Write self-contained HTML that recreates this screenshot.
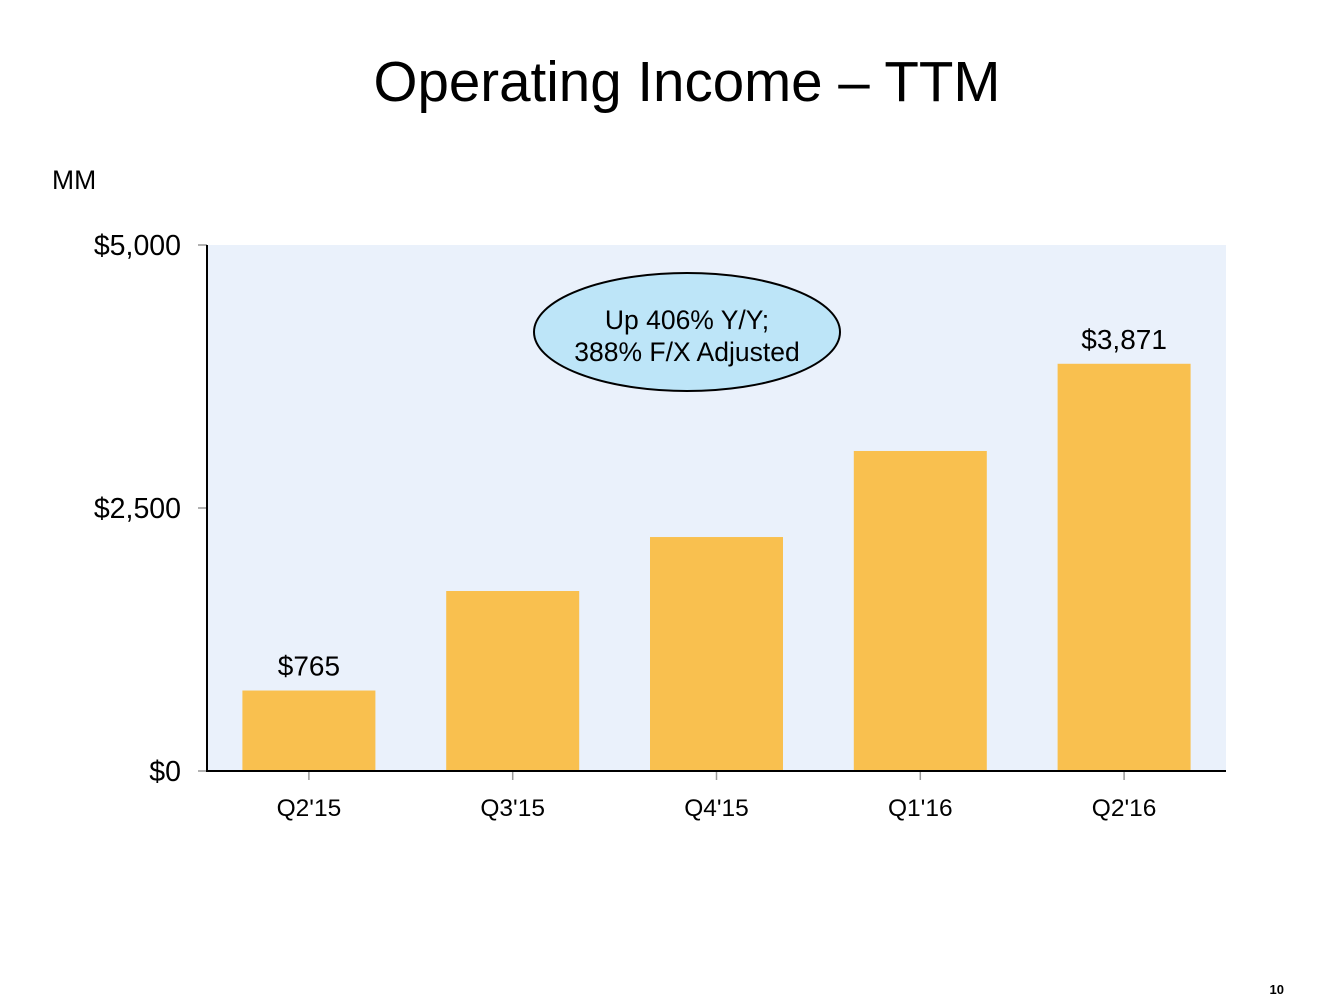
<!DOCTYPE html>
<html><head><meta charset="utf-8"><style>
body{margin:0;background:#fff;width:1335px;height:1000px;overflow:hidden;font-family:"Liberation Sans",Arial,sans-serif}
</style></head><body>
<svg id="chart" width="1335" height="1000" xmlns="http://www.w3.org/2000/svg" font-family="Liberation Sans, Arial, sans-serif">
<text x="687" y="101" font-size="56.5" text-anchor="middle" fill="#000">Operating Income – TTM</text>
<text x="52" y="189" font-size="26.5" fill="#000">MM</text>
<rect x="207" y="245" width="1019" height="526" fill="#EAF1FB"/>
<g id="bars"></g>
<g id="ticks"></g>
<line x1="207" y1="245" x2="207" y2="772" stroke="#000" stroke-width="2"/>
<line x1="206" y1="771" x2="1226" y2="771" stroke="#000" stroke-width="2"/>
<g>
<ellipse cx="687" cy="332" rx="153" ry="59" fill="#BDE5F8" stroke="#000" stroke-width="2"/>
<text x="687" y="329" font-size="26.5" text-anchor="middle">Up 406% Y/Y;</text>
<text x="687" y="361" font-size="26.5" text-anchor="middle">388% F/X Adjusted</text>
</g>
<text x="1284" y="994" font-size="13" font-weight="bold" text-anchor="end">10</text>
</svg>
<script>
const categories=["Q2'15","Q3'15","Q4'15","Q1'16","Q2'16"];
const values=[765,1711,2224,3042,3871];
const valueLabels=["$765","","","","$3,871"];
const yTicks=[0,2500,5000];
const yTickLabels=["$0","$2,500","$5,000"];
const NS="http://www.w3.org/2000/svg";
const x0=207,plotW=1019,y0=771,plotH=526,yMax=5000;
const band=plotW/categories.length,barW=133;
const xC=i=>x0+band*(i+0.5);
const yS=v=>y0-v/yMax*plotH;
function mk(t,a,p){const e=document.createElementNS(NS,t);for(const k in a)e.setAttribute(k,a[k]);p.appendChild(e);return e;}
const bg=document.getElementById('bars'),tg=document.getElementById('ticks');
categories.forEach((c,i)=>{
 const r=mk('rect',{x:xC(i)-barW/2,y:yS(values[i]),width:barW,height:y0-yS(values[i]),fill:'#F9C04F'},bg);
 
 
 if(valueLabels[i]){const t=mk('text',{x:xC(i),y:yS(values[i])-15,'font-size':28,'text-anchor':'middle'},bg);t.textContent=valueLabels[i];
 
 }
 mk('line',{x1:xC(i),x2:xC(i),y1:y0,y2:y0+9,stroke:'#999','stroke-width':1.5},tg);
 const l=mk('text',{x:xC(i),y:816,'font-size':24.5,'text-anchor':'middle'},tg);l.textContent=c;
 
 
});
yTicks.forEach((v,i)=>{
 mk('line',{x1:198,x2:207,y1:yS(v),y2:yS(v),stroke:'#999','stroke-width':1.5},tg);
 const l=mk('text',{x:181,y:yS(v)+10,'font-size':28.5,'text-anchor':'end'},tg);l.textContent=yTickLabels[i];
 
 
});
</script>
</body></html>
